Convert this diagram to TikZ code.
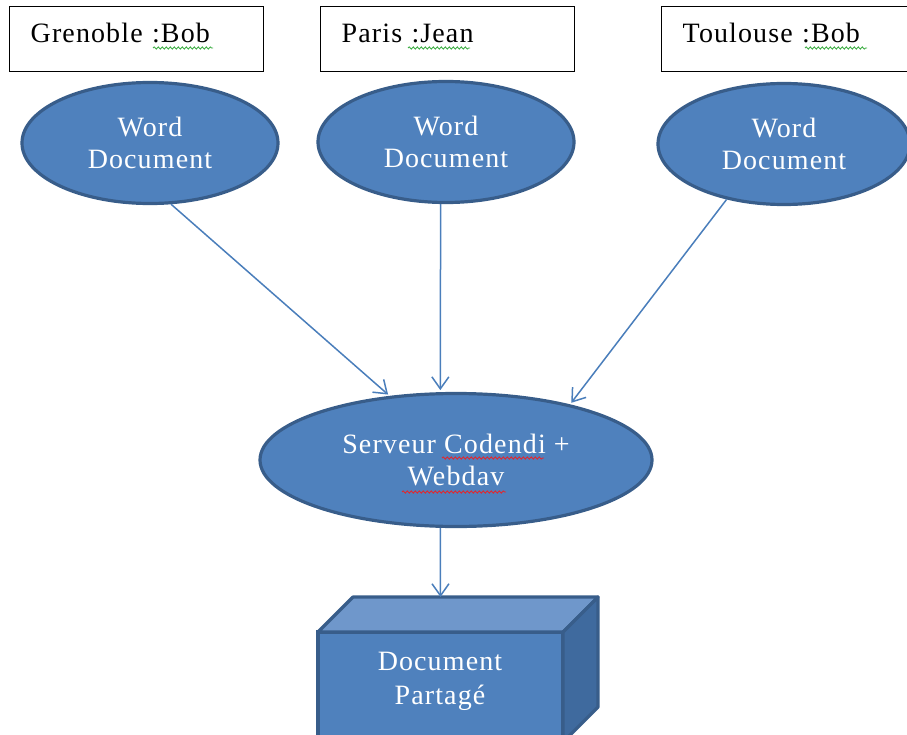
\documentclass[tikz,border=0pt]{standalone}
\usepackage{fontspec}
\setmainfont{Liberation Serif}[LetterSpace=4]
\usetikzlibrary{shapes.geometric,arrows.meta,calc,decorations.pathmorphing}
\definecolor{wblue}{HTML}{4F81BD}
\definecolor{eborder}{HTML}{385D8A}
\definecolor{ablue}{HTML}{4A7EBB}
\definecolor{toplight}{HTML}{6F97CB}
\definecolor{rightdark}{HTML}{3F6A9E}
\definecolor{spgreen}{HTML}{3FAF46}
\definecolor{spred}{HTML}{E0282E}
\begin{document}
\begin{tikzpicture}[x=1pt,y=-1pt,
  lbl/.style={draw=black, line width=1.4pt, fill=white, anchor=north west,
    inner sep=0pt, inner xsep=21pt, text width=212pt, align=left,
    text height=36pt, text depth=29pt, font=\fontsize{28}{32}\selectfont},
  doc/.style={ellipse, draw=eborder, line width=3.2pt, fill=wblue, text=white,
    minimum width=256pt, minimum height=121pt, inner sep=0pt, align=center,
    font=\fontsize{28}{32}\selectfont},
  face/.style={draw=eborder, line width=3.2pt, line join=round},
  arr/.style={draw=ablue, line width=1.5pt, shorten >=2pt,
    -{Straight Barb[length=12pt,width=17pt]}},
  txt/.style={text=white, align=center, font=\fontsize{28}{34}\selectfont},
  squig/.style={line width=0.9pt, decorate,
    decoration={snake, amplitude=1.1pt, segment length=4pt}}]
\useasboundingbox (0,0) rectangle (907,735);
\clip (0,0) rectangle (907,735);

% top labels
\node[lbl] (b1) at (9,6) {Grenoble :Bob};
\node[lbl] (b2) at (320,6) {Paris :Jean};
\node[lbl] (b3) at (661,6) {Toulouse :Bob};

% word documents
\node[doc] (e1) at (150,143) {Word\\Document};
\node[doc] (e2) at (446,142) {Word\\Document};
\node[doc, minimum width=252pt] (e3) at (784,144) {Word\\Document};

% server
\node[doc, minimum width=392pt, minimum height=133pt] (srv) at (456,460)
  {Serveur Codendi +\\Webdav};

% cube
\node[rectangle, draw=eborder, line width=3.2pt, fill=wblue, outer sep=0pt,
  minimum width=245pt, minimum height=110pt, anchor=north west] (cube) at (318,632) {};
\draw[face, fill=toplight] (cube.north west) -- ++(35,-35) -- ++(245,0)
  -- (cube.north east) -- cycle;
\draw[face, fill=rightdark] (cube.north east) -- ++(35,-35) -- ++(0,110)
  -- (cube.south east) -- cycle;
\node[txt] (ctext) at (440,681) {Document\\Partagé};
\coordinate (cubetop) at ($(cube.north)+(0,-35)$);

% spell-check underlines
\draw[squig, spgreen] ($(b1.north west)+(144,42)$) -- ++(60,0);
\draw[squig, spgreen] ($(b2.north west)+(88,42)$) -- ++(62,0);
\draw[squig, spgreen] ($(b3.north west)+(144,42)$) -- ++(62,0);
\draw[squig, spred] ($(srv.center)+(-14,-2)$) -- ++(102,0);
\draw[squig, spred] ($(srv.center)+(-54,32)$) -- ++(104,0);

% connectors
\draw[arr] (e1.-71) -- (srv.136);
\draw[arr] (e2.-95) -- (srv.103);
\draw[arr] (e3.-136) -- (srv.26);
\draw[arr, shorten >=0pt] (srv.-103) -- (cubetop);
\end{tikzpicture}
\end{document}
